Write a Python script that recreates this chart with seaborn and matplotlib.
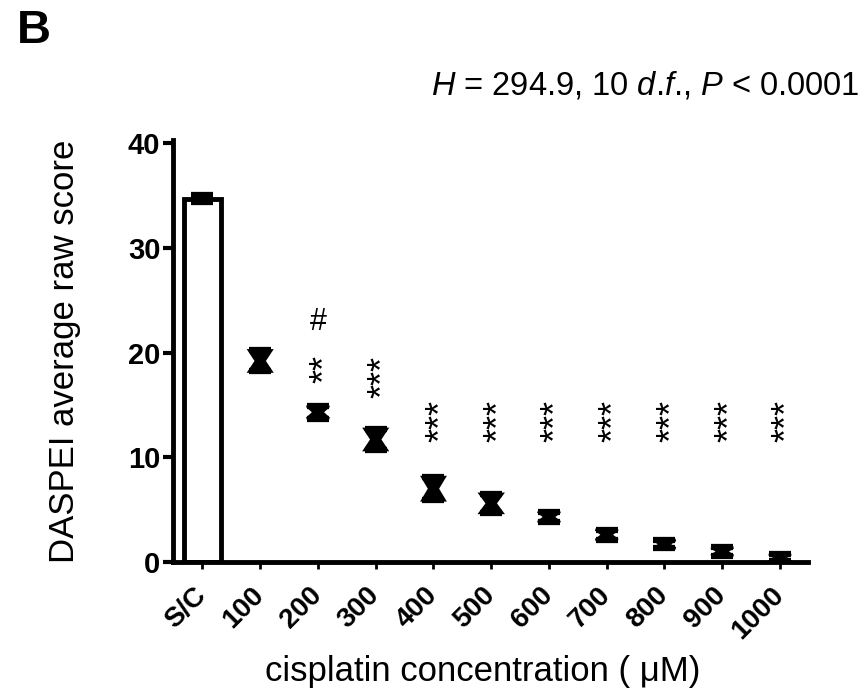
import matplotlib
matplotlib.use("Agg")
import matplotlib.pyplot as plt
import seaborn as sns
import numpy as np

# Groups and DASPEI scores (mean ± SEM)
categories = ["S/C", "100", "200", "300", "400", "500", "600", "700", "800", "900", "1000"]
means = [34.7, 19.2, 14.3, 11.7, 7.0, 5.6, 4.3, 2.6, 1.7, 1.0, 0.4]
sems = [0.3, 1.0, 0.6, 1.0, 1.1, 0.9, 0.5, 0.5, 0.4, 0.4, 0.35]
sig_labels = ["", "", "**", "***", "***", "***", "***", "***", "***", "***", "***"]
sig_heights = [0, 0, 18.4, 17.7, 13.5, 13.5, 13.5, 13.5, 13.5, 13.5, 13.5]
hash_label = "#"
hash_group = "200"
hash_height = 22.9
stats_text = (r"$\mathit{H}$ = 294.9, 10 $\mathit{d}$.$\mathit{f}$., "
              r"$\mathit{P}$ < 0.0001")

sns.set_style("white")
plt.rcParams["font.family"] = ["Liberation Sans", "DejaVu Sans"]
plt.rcParams["mathtext.fontset"] = "custom"
plt.rcParams["mathtext.rm"] = "Liberation Sans"
plt.rcParams["mathtext.it"] = "Liberation Sans:italic"
for key in ("text.color", "axes.labelcolor", "xtick.color", "ytick.color"):
    plt.rcParams[key] = "black"

fig = plt.figure(figsize=(8.65, 6.91), dpi=100)
ax = fig.add_axes([173 / 865, 1 - 562 / 691, 635 / 865, 422 / 691])

pos = np.arange(len(categories))

# Saline control as an open bar
sns.barplot(x=categories[:1], y=means[:1], order=categories, ax=ax,
            color="white", edgecolor="black", linewidth=3.5, width=0.64,
            errorbar=None)

# Error bars
ax.errorbar(pos, means, yerr=sems, fmt="none", ecolor="black",
            elinewidth=3, capsize=8, capthick=4.5, zorder=4)

# Hourglass-shaped mean ± SEM markers for the treated groups
hw = 0.19
for x, m, e in zip(pos[1:], means[1:], sems[1:]):
    xs = [x - hw, x + hw, x + 0.07, x + hw, x - hw, x - 0.07]
    ys = [m + e, m + e, m, m - e, m - e, m]
    ax.fill(xs, ys, color="black", lw=2, edgecolor="black", zorder=5)

# Significance marks (stacked asterisks, rotated)
for x, lab, h in zip(pos, sig_labels, sig_heights):
    if lab:
        ax.annotate(lab, xy=(x, h), xytext=(6, 0), textcoords="offset points",
                    rotation=90, ha="center", va="center", fontsize=26)
ax.text(categories.index(hash_group), hash_height, hash_label,
        ha="center", va="center", fontsize=22)

ax.set_xlim(-0.51, 10.485)
ax.set_ylim(0, 40.3)
ax.set_yticks([0, 10, 20, 30, 40])
ax.set_xticks(pos)
ax.set_xticklabels(categories, rotation=45, ha="right", va="center",
                   rotation_mode="anchor", fontsize=20, fontweight="bold")
for lab in ax.get_yticklabels():
    lab.set_fontweight("bold")
    lab.set_fontsize(21)

ax.spines["top"].set_visible(False)
ax.spines["right"].set_visible(False)
for s in ("left", "bottom"):
    ax.spines[s].set_linewidth(3.5)
    ax.spines[s].set_color("black")
ax.spines["left"].set_bounds(0, 40.3)
ax.tick_params(axis="y", direction="out", length=7, width=3, pad=2, left=True)
ax.tick_params(axis="x", direction="out", length=5, width=2, pad=16, bottom=True)

ax.set_ylabel("DASPEI average raw score", fontsize=25, labelpad=34)
ax.set_xlabel("cisplatin concentration ( \u03bcM)", fontsize=25, labelpad=8)
ax.xaxis.label.set_x(0.487)

fig.text(0.994, 0.876, stats_text, ha="right", va="center", fontsize=23.5)
fig.text(0.02, 0.955, "B", ha="left", va="center", fontsize=34,
         fontweight="bold")

fig.savefig("out.png", dpi=100, facecolor="white")
